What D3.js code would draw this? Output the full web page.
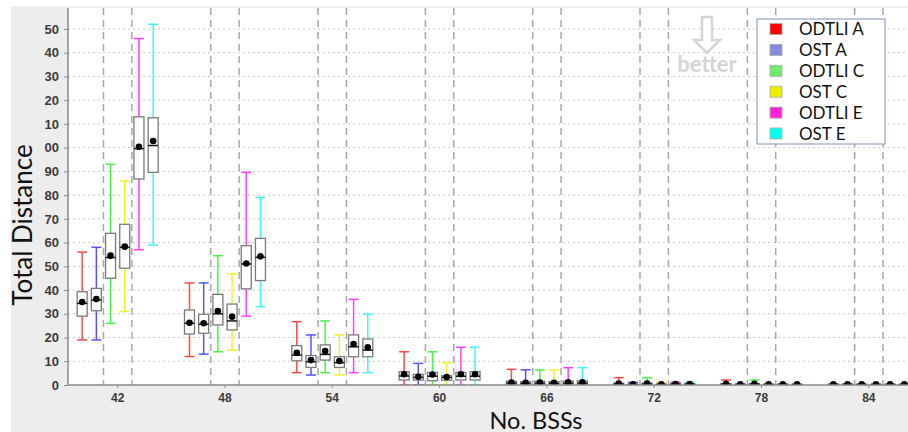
<!DOCTYPE html>
<html>
<head>
<meta charset="utf-8">
<script src="https://cdn.jsdelivr.net/npm/d3@7"></script>
<style>
  html, body { margin: 0; padding: 0; background: #fff; }
  svg { display: block; }
</style>
</head>
<body>
<div class="chart-container"></div>
<script>
const SVG_WIDTH = 908;
const SVG_HEIGHT = 432;

// categories (No. BSSs) and series
const categories = [42, 48, 54, 60, 66, 72, 78, 84];
const seriesNames = ["ODTLI A", "OST A", "ODTLI C", "OST C", "ODTLI E", "OST E"];
const seriesColours = ["#ff4848", "#5252ff", "#4ef04e", "#f2f232", "#ff40f6", "#3ff6f6"];
const legendColours = ["#ff0000", "#8888dd", "#6ced6c", "#eeee00", "#ff22dd", "#00ffee"];

// one row per category, one value per series
const whiskerLow = [
    [19, 19, 26, 31, 57, 59],
    [12, 13, 14, 14.7, 29, 33],
    [5.2, 4.2, 5.2, 4.2, 5.2, 5.2],
    [0, 0, 0, 0, 0, 0],
    [0, 0, 0, 0, 0, 0],
    [0, 0, 0, 0, 0, 0],
    [0, 0, 0, 0, 0, 0],
    [0, 0, 0, 0, 0, 0]
];
const quartile1 = [
    [29, 31.3, 45, 49.2, 86.8, 89.6],
    [21.5, 21.8, 25.3, 23.2, 40.5, 44],
    [10.2, 7.4, 10.5, 7.4, 11.9, 11.9],
    [2.1, 2.1, 1.8, 2, 2.1, 2.1],
    [0, 0, 0, 0, 0, 0],
    [0, 0, 0, 0, 0, 0],
    [0, 0, 0, 0, 0, 0],
    [0, 0, 0, 0, 0, 0]
];
const medians = [
    [34.4, 35.8, 53.7, 58, 99.6, 100.9],
    [26, 25.6, 30, 27, 51, 53.8],
    [12.6, 9.8, 12.9, 9.4, 16.1, 14.7],
    [3.8, 3.2, 3.7, 3.2, 3.7, 3.7],
    [0.8, 0.7, 0.8, 0.7, 0.8, 0.8],
    [0.4, 0.2, 0.4, 0.2, 0.3, 0.3],
    [0.3, 0.2, 0.3, 0.2, 0.2, 0.2],
    [0.2, 0.2, 0.2, 0.2, 0.2, 0.2]
];
const quartile3 = [
    [39.3, 40.7, 63.9, 67.7, 113, 112.6],
    [31.6, 29.8, 38.2, 34.1, 58.7, 61.8],
    [16.6, 12.4, 16.9, 11.9, 21.1, 19.4],
    [5.6, 4.5, 5.3, 3.9, 5.3, 5.6],
    [1.6, 1.4, 1.6, 1.4, 1.7, 1.7],
    [0.8, 0.4, 0.8, 0.4, 0.6, 0.6],
    [0.6, 0.3, 0.6, 0.3, 0.3, 0.3],
    [0.3, 0.3, 0.3, 0.3, 0.3, 0.3]
];
const whiskerHigh = [
    [56, 58, 93, 86, 146, 152],
    [43, 43, 54.5, 46.8, 89.6, 79],
    [26.7, 21.1, 27, 21.1, 36.1, 29.9],
    [14, 9.1, 14, 9.4, 15.9, 15.9],
    [6.6, 6.4, 6.3, 6.3, 7.3, 7.3],
    [3.1, 1.1, 3.1, 1.1, 1.2, 1.2],
    [2.1, 0.4, 2.1, 0.4, 0.4, 0.4],
    [0.4, 0.4, 0.4, 0.4, 0.4, 0.4]
];
const means = [
    [35, 36.2, 54.5, 58.3, 100.4, 102.8],
    [26.2, 26, 31.2, 28.8, 51.2, 54.2],
    [13.6, 10.5, 14.3, 10.1, 17.3, 15.9],
    [4.5, 3.5, 4.4, 3.4, 4.5, 4.5],
    [1, 0.9, 1, 0.9, 1.1, 1.1],
    [0.6, 0.3, 0.6, 0.3, 0.4, 0.4],
    [0.5, 0.3, 0.5, 0.3, 0.3, 0.3],
    [0.3, 0.3, 0.3, 0.3, 0.3, 0.3]
];

// y ticks: the labels above 100 are clipped in the original
const yTickValues = [0, 10, 20, 30, 40, 50, 60, 70, 80, 90, 100, 110, 120, 130, 140, 150];
const yTickLabels = ["0", "10", "20", "30", "40", "50", "60", "70", "80", "90", "00", "10", "20", "30", "40", "50"];

const plot = { left: 68, top: 8, right: 908, bottom: 385 };

const svg = d3.select(".chart-container")
    .append("svg")
    .attr("width", SVG_WIDTH)
    .attr("height", SVG_HEIGHT);

// grey panel + white plot area
svg.append("rect")
    .attr("x", 11).attr("y", 6)
    .attr("width", SVG_WIDTH - 11).attr("height", SVG_HEIGHT - 6)
    .attr("fill", "#ededed");

svg.append("rect")
    .attr("x", plot.left).attr("y", plot.top)
    .attr("width", plot.right - plot.left).attr("height", plot.bottom - plot.top)
    .attr("fill", "#fff");

svg.append("clipPath").attr("id", "plot-clip")
    .append("rect")
    .attr("x", plot.left).attr("y", plot.top)
    .attr("width", plot.right - plot.left).attr("height", plot.bottom - plot.top);

const x = d3.scaleBand()
    .domain(categories)
    .range([64, 922.5])
    .padding(0);

const inner = d3.scalePoint()
    .domain(seriesNames)
    .range([0, x.bandwidth()])
    .padding(1.28);

const y = d3.scaleLinear()
    .domain([0, 150])
    .range([plot.bottom, 29]);

const boxWidth = 10;
const capWidth = 10;

const plotArea = svg.append("g").attr("clip-path", "url(#plot-clip)");

// horizontal dotted grid
plotArea.selectAll(".hgrid")
    .data(yTickValues.filter(d => d > 0))
    .join("line")
    .attr("x1", plot.left).attr("x2", plot.right)
    .attr("y1", d => y(d)).attr("y2", d => y(d))
    .attr("stroke", "#c8c8c8")
    .attr("stroke-width", 1)
    .attr("stroke-dasharray", "2,3");

// vertical dashed lines in each category
const vLines = [];
categories.forEach(c => {
    const left = (inner(seriesNames[1]) + inner(seriesNames[2])) / 2;
    const right = (inner(seriesNames[3]) + inner(seriesNames[4])) / 2;
    vLines.push(x(c) + left, x(c) + right);
});

plotArea.selectAll(".vgrid")
    .data(vLines)
    .join("line")
    .attr("x1", d => d).attr("x2", d => d)
    .attr("y1", plot.top).attr("y2", plot.bottom)
    .attr("stroke", "#a8a8a8")
    .attr("stroke-width", 1.5)
    .attr("stroke-dasharray", "7,5");

// box data flattened
const boxes = [];
categories.forEach((c, i) => {
    seriesNames.forEach((s, j) => {
        boxes.push({
            cat: c, series: s, colour: seriesColours[j],
            low: whiskerLow[i][j], q1: quartile1[i][j], med: medians[i][j],
            q3: quartile3[i][j], high: whiskerHigh[i][j], mean: means[i][j]
        });
    });
});

const boxGroups = plotArea.selectAll(".box")
    .data(boxes)
    .join("g")
    .attr("transform", d => `translate(${x(d.cat) + inner(d.series)},0)`);

// whiskers
boxGroups.append("line")
    .attr("x1", 0).attr("x2", 0)
    .attr("y1", d => y(d.low)).attr("y2", d => y(d.high))
    .attr("stroke", d => d.colour)
    .attr("stroke-width", 1.5);

boxGroups.append("line")
    .attr("x1", -capWidth / 2).attr("x2", capWidth / 2)
    .attr("y1", d => y(d.high)).attr("y2", d => y(d.high))
    .attr("stroke", d => d.colour)
    .attr("stroke-width", 1.5);

boxGroups.append("line")
    .attr("x1", -capWidth / 2).attr("x2", capWidth / 2)
    .attr("y1", d => y(d.low)).attr("y2", d => y(d.low))
    .attr("stroke", d => d.colour)
    .attr("stroke-width", 1.5);

// boxes
boxGroups.append("rect")
    .attr("x", -boxWidth / 2)
    .attr("y", d => y(d.q3))
    .attr("width", boxWidth)
    .attr("height", d => Math.max(0, y(d.q1) - y(d.q3)))
    .attr("fill", "#fff")
    .attr("stroke", "#7a7a7a")
    .attr("stroke-width", 1.3);

boxGroups.append("line")
    .attr("x1", -boxWidth / 2).attr("x2", boxWidth / 2)
    .attr("y1", d => y(d.med)).attr("y2", d => y(d.med))
    .attr("stroke", "#111")
    .attr("stroke-width", 1.5);

boxGroups.append("circle")
    .attr("cx", 0)
    .attr("cy", d => y(d.mean))
    .attr("r", 3.3)
    .attr("fill", "#000");

// axes lines
svg.append("line")
    .attr("x1", plot.left).attr("x2", plot.left)
    .attr("y1", plot.top).attr("y2", plot.bottom)
    .attr("stroke", "#8a8a8a").attr("stroke-width", 1.5);

svg.append("line")
    .attr("x1", plot.left).attr("x2", plot.right)
    .attr("y1", plot.bottom).attr("y2", plot.bottom)
    .attr("stroke", "#8a8a8a").attr("stroke-width", 1.5);

// y axis
const yAxis = d3.axisLeft(y)
    .tickValues(yTickValues)
    .tickFormat((d, i) => yTickLabels[i])
    .tickSize(4)
    .tickPadding(5);

const yAxisG = svg.append("g")
    .attr("transform", `translate(${plot.left},0)`)
    .call(yAxis);
yAxisG.select(".domain").remove();
yAxisG.selectAll("line").attr("stroke", "#8a8a8a");
yAxisG.selectAll("text")
    .attr("fill", "#3a3a3a")
    .style("font-family", "'Liberation Sans', Arial, sans-serif")
    .style("font-size", "13px")
    .style("font-weight", "bold");

// x axis
const xAxis = d3.axisBottom(x)
    .tickSize(3)
    .tickPadding(5);

const xAxisG = svg.append("g")
    .attr("transform", `translate(0,${plot.bottom})`)
    .call(xAxis);
xAxisG.select(".domain").remove();
xAxisG.selectAll("line").attr("stroke", "#8a8a8a");
xAxisG.selectAll("text")
    .attr("fill", "#3a3a3a")
    .style("font-family", "'Liberation Sans', Arial, sans-serif")
    .style("font-size", "12px")
    .style("font-weight", "bold");

// axis titles
svg.append("text")
    .attr("x", 536)
    .attr("y", 428.5)
    .attr("text-anchor", "middle")
    .attr("fill", "#111")
    .style("font-family", "Lato, 'Open Sans', sans-serif")
    .style("font-size", "23.5px")
    .text("No. BSSs");

svg.append("text")
    .attr("transform", "translate(32,225) rotate(-90)")
    .attr("text-anchor", "middle")
    .attr("fill", "#111")
    .style("font-family", "Lato, 'Open Sans', sans-serif")
    .style("font-size", "26px")
    .text("Total Distance");

// "better" arrow
const arrow = svg.append("g");
arrow.append("path")
    .attr("d", "M702,17 L712,17 L712,40 L720,40 L707,53 L694,40 L702,40 Z")
    .attr("fill", "#fff")
    .attr("stroke", "#d4d4d4")
    .attr("stroke-width", 2.5)
    .attr("stroke-linejoin", "miter");
arrow.append("text")
    .attr("x", 707)
    .attr("y", 72)
    .attr("text-anchor", "middle")
    .attr("fill", "#d4d4d4")
    .style("font-family", "Lato, 'Open Sans', sans-serif")
    .style("font-size", "22px")
    .style("font-weight", "bold")
    .text("better");

// legend
const legend = svg.append("g");
legend.append("rect")
    .attr("x", 757).attr("y", 19)
    .attr("width", 128).attr("height", 125)
    .attr("fill", "#fff")
    .attr("stroke", "#7d92b5")
    .attr("stroke-width", 1);

const legendRows = legend.selectAll(".legend-row")
    .data(seriesNames)
    .join("g")
    .attr("transform", (d, i) => `translate(770,${29 + i * 20.9})`);

legendRows.append("rect")
    .attr("x", 0).attr("y", -5.5)
    .attr("width", 12).attr("height", 11)
    .attr("fill", (d, i) => legendColours[i])
    .attr("stroke", "#aaa")
    .attr("stroke-width", 0.8);

legendRows.append("text")
    .attr("x", 29)
    .attr("y", 6)
    .attr("fill", "#111")
    .style("font-family", "Lato, 'Open Sans', sans-serif")
    .style("font-size", "17px")
    .text(d => d);
</script>
</body>
</html>
